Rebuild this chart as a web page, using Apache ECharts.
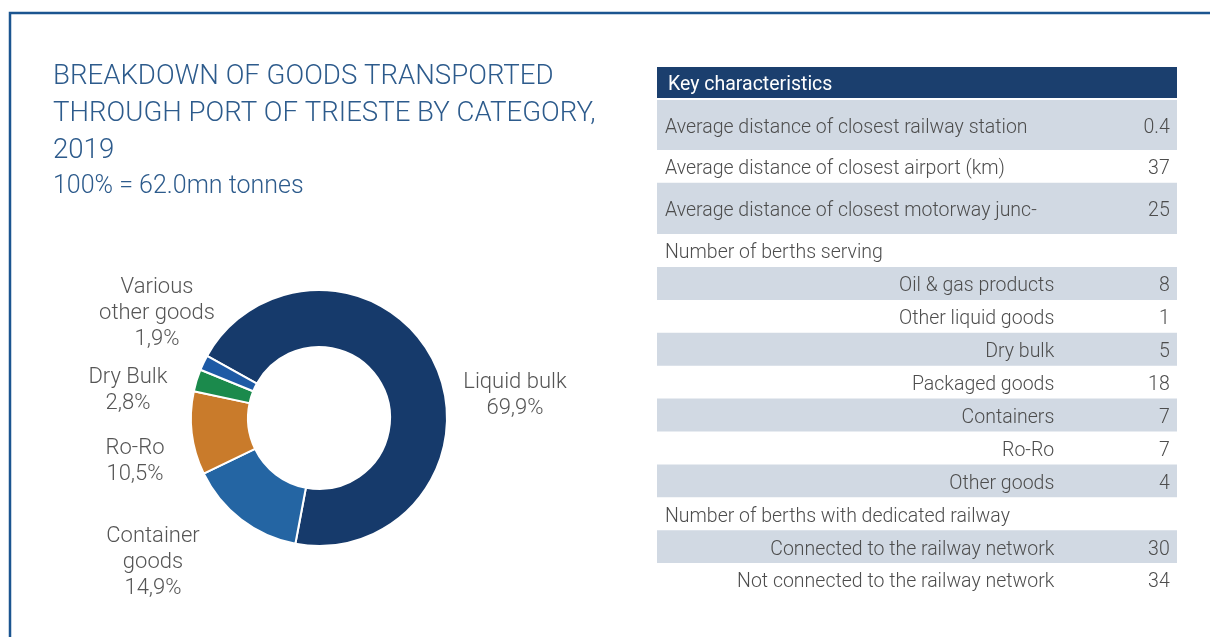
<!DOCTYPE html>
<html>
<head>
<meta charset="utf-8">
<script src="https://cdn.jsdelivr.net/npm/echarts@6/dist/echarts.min.js"></script>
<style>
html,body{margin:0;padding:0;background:#fff;}
#chart{width:1210px;height:637px;}
</style>
</head>
<body>
<div id="chart"></div>
<script>
// ---- Data ----
const categories = ['Liquid bulk', 'Container\ngoods', 'Ro-Ro', 'Dry Bulk', 'Various\nother goods'];
const shares = [69.9, 14.9, 10.5, 2.8, 1.9];
const titleText = 'BREAKDOWN OF GOODS TRANSPORTED\nTHROUGH PORT OF TRIESTE BY CATEGORY,\n2019';
const subtitleText = '100% = 62.0mn tonnes';

const tableHeader = 'Key characteristics';
const tableLabels = [
  'Average distance of closest railway station',
  'Average distance of closest airport (km)',
  'Average distance of closest motorway junc-',
  'Number of berths serving',
  'Oil & gas products',
  'Other liquid goods',
  'Dry bulk',
  'Packaged goods',
  'Containers',
  'Ro-Ro',
  'Other goods',
  'Number of berths with dedicated railway',
  'Connected to the railway network',
  'Not connected to the railway network'
];
const tableValues = ['0.4', '37', '25', '', '8', '1', '5', '18', '7', '7', '4', '', '30', '34'];

// ---- Layout / style (not data) ----
const rowAlign = ['left','left','left','left','right','right','right','right','right','right','right','left','right','right'];
const rowUnits = [1.52, 1, 1.56, 1, 1, 1, 1, 1, 1, 1, 1, 1, 1, 1];
const headerUnits = 1;
const sliceColors = ['#163a6b', '#2465a3', '#c97b2b', '#1b8a4c', '#1e5aa5'];
const labelPos = [[515, 395], [153, 562], [135, 461], [128, 390], [157, 313]];
const textShift = 3;

// build table rows from the arrays
let acc = headerUnits;
const tableRows = tableLabels.map((lab, i) => {
  const s = acc; acc += rowUnits[i];
  return [s, acc, i];
});
const totalUnits = acc;

const chart = echarts.init(document.getElementById('chart'));
const textColor = '#4d4d4d';
const fontFam = 'Roboto, "Noto Sans", sans-serif';
const tableFont = 19.5;

const option = {
  backgroundColor: '#ffffff',
  animation: false,
  title: {
    text: titleText,
    subtext: subtitleText,
    left: 53,
    top: 59,
    padding: 0,
    itemGap: 4,
    textStyle: { color: '#2d5b8c', fontSize: 27.6, fontWeight: 300, fontFamily: fontFam, lineHeight: 37 },
    subtextStyle: { color: '#2d5b8c', fontSize: 25, fontWeight: 300, fontFamily: fontFam, lineHeight: 26 }
  },
  graphic: [{
    type: 'polyline',
    shape: { points: [[10, 637], [10, 13], [1210, 13]] },
    style: { stroke: '#1b5590', lineWidth: 2.5, fill: null },
    silent: true
  }],
  grid: { left: 657, right: 33, top: 67, bottom: 41 },
  xAxis: { type: 'value', min: 0, max: 1, show: false },
  yAxis: { type: 'value', min: 0, max: totalUnits, inverse: true, show: false },
  series: [
    {
      type: 'pie',
      center: [319, 418],
      radius: [71, 128],
      startAngle: 151,
      clockwise: true,
      avoidLabelOverlap: false,
      itemStyle: { borderColor: '#ffffff', borderWidth: 2 },
      label: {
        show: true,
        position: 'outside',
        formatter: p => p.name + '\n' + p.value.toFixed(1).replace('.', ',') + '%',
        color: '#555555',
        fontSize: 22,
        fontWeight: 300,
        fontFamily: fontFam,
        lineHeight: 26,
        align: 'center'
      },
      labelLine: { show: false },
      labelLayout: params => {
        const p = labelPos[params.dataIndex];
        return { x: p[0], y: p[1], align: 'center', verticalAlign: 'middle' };
      },
      emphasis: { disabled: true },
      data: categories.map((c, i) => ({ name: c, value: shares[i], itemStyle: { color: sliceColors[i] } }))
    },
    {
      type: 'custom',
      coordinateSystem: 'cartesian2d',
      silent: true,
      renderItem: (params, api) => {
        const a = api.coord([0, 0]);
        const b = api.coord([1, headerUnits]);
        return {
          type: 'group',
          children: [
            { type: 'rect', shape: { x: a[0], y: a[1], width: b[0] - a[0], height: b[1] - a[1] - 2 }, style: { fill: '#1b3f6e' } },
            { type: 'text', style: { text: tableHeader, x: a[0] + 11, y: (a[1] + b[1] - 2) / 2 + textShift, verticalAlign: 'middle', align: 'left', fill: '#ffffff', fontSize: tableFont, fontFamily: fontFam } }
          ]
        };
      },
      data: [[0]]
    },
    {
      type: 'custom',
      coordinateSystem: 'cartesian2d',
      silent: true,
      encode: { y: [0, 1] },
      renderItem: (params, api) => {
        const s = api.value(0), e = api.value(1), i = api.value(2);
        const p0 = api.coord([0, s]);
        const p1 = api.coord([1, e]);
        const yc = (p0[1] + p1[1]) / 2 + textShift;
        const w = p1[0] - p0[0];
        const children = [];
        if (i % 2 === 0) {
          children.push({ type: 'rect', shape: { x: p0[0], y: p0[1], width: w, height: p1[1] - p0[1] }, style: { fill: '#d1d9e3' } });
        }
        const left = rowAlign[i] === 'left';
        children.push({ type: 'text', style: {
          text: tableLabels[i],
          x: left ? p0[0] + 8 : api.coord([0.764, 0])[0],
          y: yc, align: left ? 'left' : 'right', verticalAlign: 'middle',
          fill: textColor, fontSize: tableFont, fontWeight: 300, fontFamily: fontFam } });
        if (tableValues[i] !== '') {
          children.push({ type: 'text', style: {
            text: tableValues[i],
            x: api.coord([0.986, 0])[0], y: yc, align: 'right', verticalAlign: 'middle',
            fill: textColor, fontSize: tableFont, fontWeight: 300, fontFamily: fontFam } });
        }
        return { type: 'group', children };
      },
      data: tableRows
    }
  ]
};
chart.setOption(option);
</script>
</body>
</html>
